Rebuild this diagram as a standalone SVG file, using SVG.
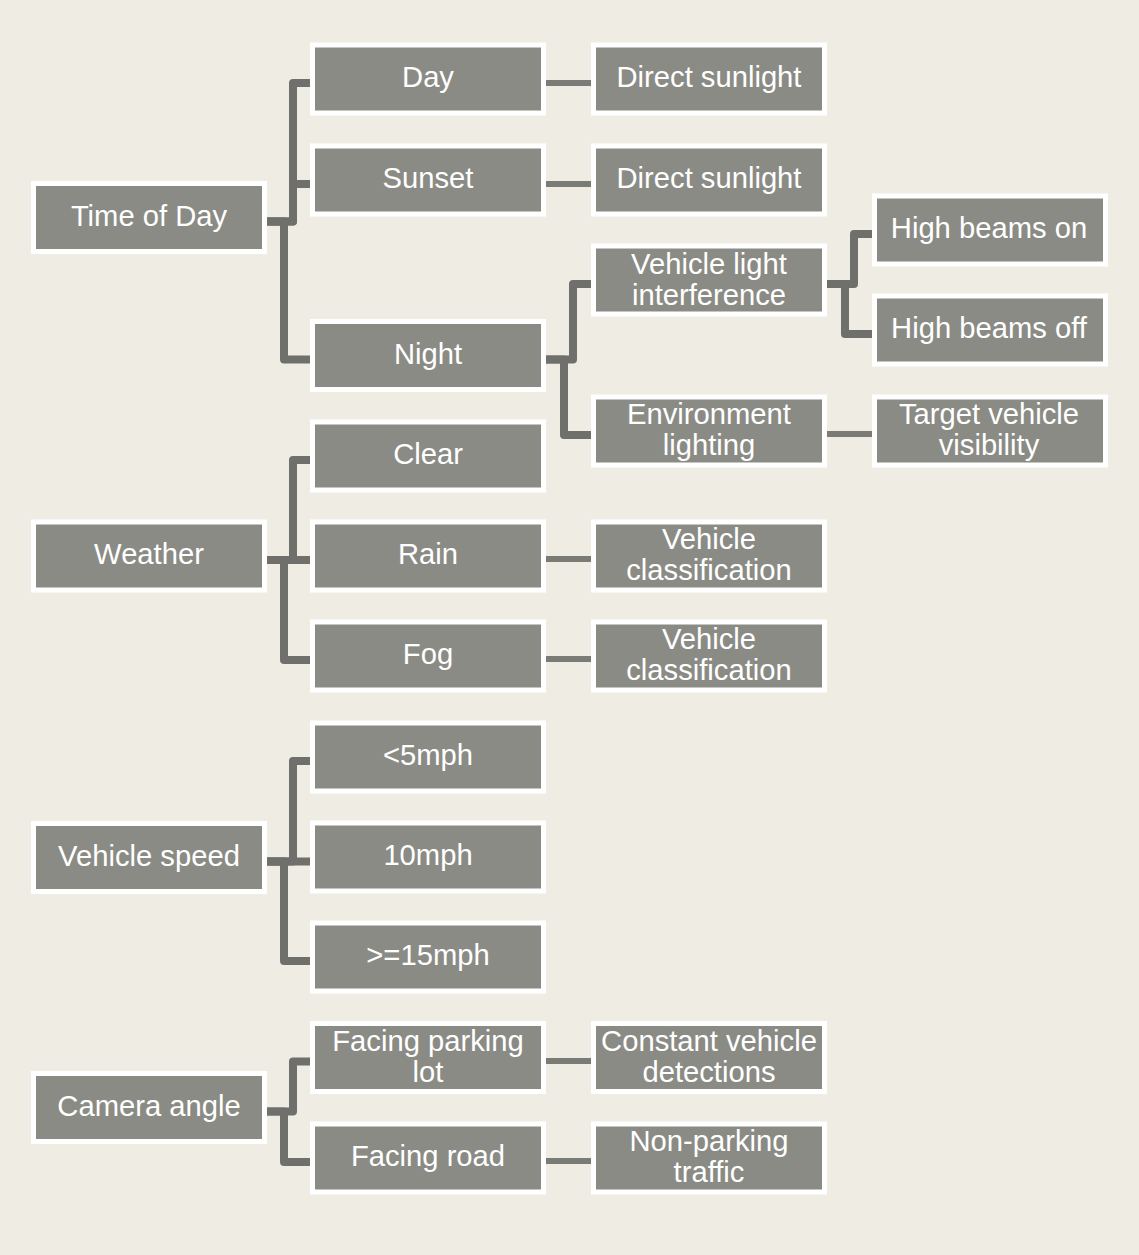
<svg xmlns="http://www.w3.org/2000/svg" width="1139" height="1255" viewBox="0 0 1139 1255">
<style>
.bx{fill:#8b8b85;stroke:#ffffff;stroke-width:5}
.t{font-family:"Liberation Sans",Arial,sans-serif;font-size:29.2px;fill:#ffffff;text-anchor:middle}
.el{fill:none;stroke:#6f706b;stroke-width:8;stroke-linejoin:round}
.st{fill:none;stroke:#7a7b75;stroke-width:6}
</style>
<rect x="0" y="0" width="1139" height="1255" fill="#efece4"/>
<g id="connectors">
<path class="el" d="M266,221.5 H293 V83 H310"/>
<path class="el" d="M266,221.5 H293 V184 H310"/>
<path class="el" d="M266,221.5 H284 V359.5 H310"/>
<path class="el" d="M266,560 H293 V460 H310"/>
<path class="el" d="M266,560 H310"/>
<path class="el" d="M266,560 H284 V660 H310"/>
<path class="el" d="M266,861.5 H293 V761 H310"/>
<path class="el" d="M266,861.5 H310"/>
<path class="el" d="M266,861.5 H284 V961 H310"/>
<path class="el" d="M266,1111.5 H293 V1061.5 H310"/>
<path class="el" d="M266,1111.5 H284 V1162 H310"/>
<path class="el" d="M546,359.5 H573 V284 H591"/>
<path class="el" d="M546,359.5 H564 V435 H591"/>
<path class="el" d="M827,284 H854 V234 H872"/>
<path class="el" d="M827,284 H845 V334 H872"/>
<path class="st" d="M546,83 H591"/>
<path class="st" d="M546,184 H591"/>
<path class="st" d="M827,434 H872"/>
<path class="st" d="M546,559 H591"/>
<path class="st" d="M546,659 H591"/>
<path class="st" d="M546,1061 H591"/>
<path class="st" d="M546,1161 H591"/>
</g>
<g id="time-of-day"><rect class="bx" x="33.5" y="183.5" width="231" height="68"/><text class="t" x="149" y="225.5">Time of Day</text></g>
<g id="weather"><rect class="bx" x="33.5" y="522" width="231" height="68"/><text class="t" x="149" y="564">Weather</text></g>
<g id="vehicle-speed"><rect class="bx" x="33.5" y="823.5" width="231" height="68"/><text class="t" x="149" y="865.5">Vehicle speed</text></g>
<g id="camera-angle"><rect class="bx" x="33.5" y="1073.5" width="231" height="68"/><text class="t" x="149" y="1115.5">Camera angle</text></g>

<g id="day"><rect class="bx" x="312.5" y="45" width="231" height="68"/><text class="t" x="428" y="87">Day</text></g>
<g id="sunset"><rect class="bx" x="312.5" y="146" width="231" height="68"/><text class="t" x="428" y="188">Sunset</text></g>
<g id="night"><rect class="bx" x="312.5" y="321.5" width="231" height="68"/><text class="t" x="428" y="363.5">Night</text></g>
<g id="clear"><rect class="bx" x="312.5" y="422" width="231" height="68"/><text class="t" x="428" y="464">Clear</text></g>
<g id="rain"><rect class="bx" x="312.5" y="522" width="231" height="68"/><text class="t" x="428" y="564">Rain</text></g>
<g id="fog"><rect class="bx" x="312.5" y="622" width="231" height="68"/><text class="t" x="428" y="664">Fog</text></g>
<g id="lt5mph"><rect class="bx" x="312.5" y="723" width="231" height="68"/><text class="t" x="428" y="765">&lt;5mph</text></g>
<g id="10mph"><rect class="bx" x="312.5" y="823" width="231" height="68"/><text class="t" x="428" y="865">10mph</text></g>
<g id="ge15mph"><rect class="bx" x="312.5" y="923" width="231" height="68"/><text class="t" x="428" y="965">&gt;=15mph</text></g>
<g id="facing-parking-lot"><rect class="bx" x="312.5" y="1023.5" width="231" height="68"/><text class="t" x="428" y="1051">Facing parking</text><text class="t" x="428" y="1082">lot</text></g>
<g id="facing-road"><rect class="bx" x="312.5" y="1124" width="231" height="68"/><text class="t" x="428" y="1166">Facing road</text></g>

<g id="direct-sunlight-1"><rect class="bx" x="593.5" y="45" width="231" height="68"/><text class="t" x="709" y="87">Direct sunlight</text></g>
<g id="direct-sunlight-2"><rect class="bx" x="593.5" y="146" width="231" height="68"/><text class="t" x="709" y="188">Direct sunlight</text></g>
<g id="vehicle-light-interference"><rect class="bx" x="593.5" y="246" width="231" height="68"/><text class="t" x="709" y="273.5">Vehicle light</text><text class="t" x="709" y="304.5">interference</text></g>
<g id="environment-lighting"><rect class="bx" x="593.5" y="397" width="231" height="68"/><text class="t" x="709" y="424">Environment</text><text class="t" x="709" y="455">lighting</text></g>
<g id="vehicle-classification-1"><rect class="bx" x="593.5" y="522" width="231" height="68"/><text class="t" x="709" y="549">Vehicle</text><text class="t" x="709" y="580">classification</text></g>
<g id="vehicle-classification-2"><rect class="bx" x="593.5" y="622" width="231" height="68"/><text class="t" x="709" y="649">Vehicle</text><text class="t" x="709" y="680">classification</text></g>
<g id="constant-vehicle-detections"><rect class="bx" x="593.5" y="1023.5" width="231" height="68"/><text class="t" x="709" y="1051">Constant vehicle</text><text class="t" x="709" y="1082">detections</text></g>
<g id="non-parking-traffic"><rect class="bx" x="593.5" y="1124" width="231" height="68"/><text class="t" x="709" y="1151">Non-parking</text><text class="t" x="709" y="1182">traffic</text></g>

<g id="high-beams-on"><rect class="bx" x="874.5" y="196" width="231" height="68"/><text class="t" x="989" y="238">High beams on</text></g>
<g id="high-beams-off"><rect class="bx" x="874.5" y="296" width="231" height="68"/><text class="t" x="989" y="338">High beams off</text></g>
<g id="target-vehicle-visibility"><rect class="bx" x="874.5" y="397" width="231" height="68"/><text class="t" x="989" y="424">Target vehicle</text><text class="t" x="989" y="455">visibility</text></g>
</svg>
